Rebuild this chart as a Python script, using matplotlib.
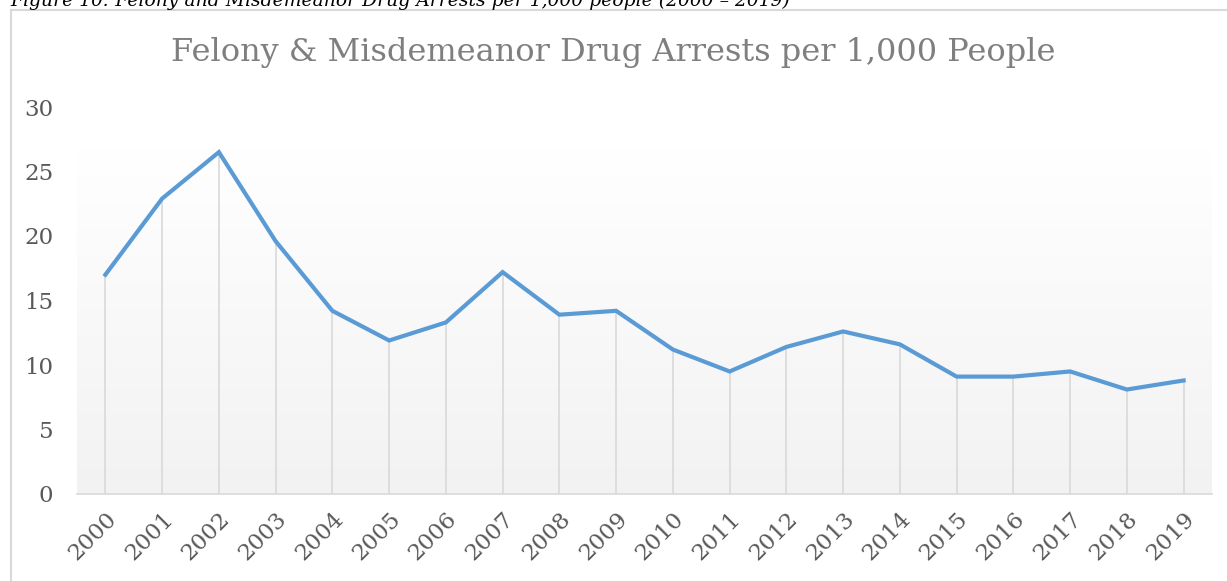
import numpy as np
import matplotlib
matplotlib.use("Agg")
import matplotlib.pyplot as plt
from matplotlib.patches import Rectangle

years = [str(y) for y in range(2000, 2020)]
arrests = [17.0, 22.9, 26.5, 19.6, 14.2, 11.9, 13.3, 17.2, 13.9, 14.2,
           11.2, 9.5, 11.4, 12.6, 11.6, 9.1, 9.1, 9.5, 8.1, 8.8]
yticks = [0, 5, 10, 15, 20, 25, 30]

title = "Felony & Misdemeanor Drug Arrests per 1,000 People"
caption = "Figure 10: Felony and Misdemeanor Drug Arrests per 1,000 people (2000 \u2013 2019)"

serif = "DejaVu Serif"
text_gray = "#595959"

fig = plt.figure(figsize=(12.27, 5.81), dpi=100)
fig.patch.set_facecolor("white")

# chart border
fig.patches.append(Rectangle((11 / 1227, -0.1), 1.2, 1 - 10 / 581 + 0.1,
                             transform=fig.transFigure, fill=False,
                             edgecolor="#d9d9d9", linewidth=1.5))

# caption above the chart, partly cut off at the top
fig.text(10 / 1227, 1 - 6 / 581, caption, family=serif, style="italic",
         fontsize=13.5, color="black", ha="left", va="baseline")

ax = fig.add_axes([77 / 1227, 1 - 494 / 581, (1212 - 77) / 1227, (494 - 107) / 581])
x = np.arange(len(years))
ax.set_xlim(-0.5, len(years) - 0.5)
ax.set_ylim(0, 30)

# plot area gradient: white at top fading to light gray at the bottom
grad = np.linspace(1.0, 0.0, 256).reshape(-1, 1)
cmap = matplotlib.colors.LinearSegmentedColormap.from_list("bg", ["#f2f2f2", "#ffffff"])
ax.imshow(grad, aspect="auto", cmap=cmap, origin="upper",
          extent=(-0.5, len(years) - 0.5, 0, max(arrests) + 0.2), zorder=0)

ax.vlines(x, 0, arrests, color="#d9d9d9", linewidth=1.2, zorder=1)
ax.plot(x, arrests, color="#5b9bd5", linewidth=3.0, solid_joinstyle="miter", zorder=3)

for s in ["top", "right", "left"]:
    ax.spines[s].set_visible(False)
ax.spines["bottom"].set_color("#d9d9d9")
ax.spines["bottom"].set_linewidth(1.2)

ax.set_yticks(yticks)
ax.set_yticklabels([str(v) for v in yticks], family=serif, fontsize=16.5, color=text_gray)
ax.set_xticks(x)
ax.set_xticklabels(years, family=serif, fontsize=16.5, color=text_gray,
                   rotation=45, ha="right", rotation_mode="anchor")
ax.tick_params(axis="both", length=0)
ax.tick_params(axis="y", pad=17)
ax.tick_params(axis="x", pad=10)

fig.text(0.5, 1 - 53 / 581, title, family=serif, fontsize=23, color="#7f7f7f",
         ha="center", va="center")

fig.savefig("out.png", dpi=100)
